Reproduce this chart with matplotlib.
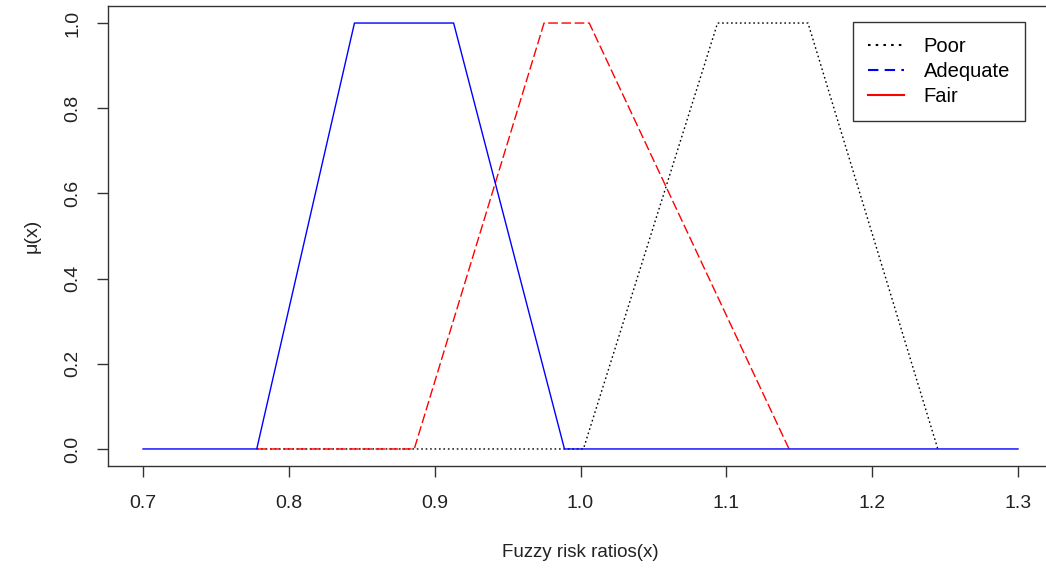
import matplotlib
matplotlib.use("Agg")
import matplotlib.pyplot as plt
from matplotlib.lines import Line2D

plt.rcParams["font.family"] = ["Liberation Sans", "DejaVu Sans"]

# membership function breakpoints
poor_x = [0.778, 1.002, 1.094, 1.156, 1.245]
poor_mu = [0.0, 0.0, 1.0, 1.0, 0.0]

adequate_x = [0.700, 0.778, 0.845, 0.913, 0.989, 1.300]
adequate_mu = [0.0, 0.0, 1.0, 1.0, 0.0, 0.0]

fair_x = [0.778, 0.886, 0.975, 1.006, 1.143]
fair_mu = [0.0, 0.0, 1.0, 1.0, 0.0]

x_ticks = [0.7, 0.8, 0.9, 1.0, 1.1, 1.2, 1.3]
y_ticks = [0.0, 0.2, 0.4, 0.6, 0.8, 1.0]
legend_labels = ["Poor", "Adequate", "Fair"]

W, H = 1046, 568
fig = plt.figure(figsize=(W / 100, H / 100), dpi=100)
ax = fig.add_axes([108 / W, (H - 466) / H, (1053 - 108) / W, (466 - 6) / H])

ax.plot(poor_x, poor_mu, color="black", lw=1.0, dashes=(1.2, 2.0))
ax.plot(fair_x, fair_mu, color="#ff0000", lw=1.0, dashes=(7, 2.5))
ax.plot(adequate_x, adequate_mu, color="#0000ff", lw=1.0)

ax.set_xlim(0.676, 1.324)
ax.set_ylim(-0.04, 1.04)
ax.set_xticks(x_ticks, [f"{t:.1f}" for t in x_ticks])
ax.set_yticks(y_ticks, [f"{t:.1f}" for t in y_ticks])
for lab in ax.get_yticklabels():
    lab.set_rotation(90)
    lab.set_va("center")

ax.tick_params(axis="both", direction="out", length=8, width=1, color="#333333",
               labelsize=14, labelcolor="#222222")
ax.tick_params(axis="x", pad=13)
ax.tick_params(axis="y", pad=11)
for sp in ax.spines.values():
    sp.set_color("#333333")
    sp.set_linewidth(1.0)

ax.set_xlabel("Fuzzy risk ratios(x)", fontsize=13.5, color="#222222", labelpad=23)
ax.set_ylabel("\u03bc(x)", fontsize=14, color="#222222", labelpad=17)

handles = [
    Line2D([], [], color="black", lw=1.5, dashes=(1.2, 2.5)),
    Line2D([], [], color="#0000ff", lw=1.5, dashes=(5, 3)),
    Line2D([], [], color="#ff0000", lw=1.5),
]
leg = ax.legend(handles, legend_labels, loc="upper right",
                bbox_to_anchor=(1025 / W, 1 - 22 / H), bbox_transform=fig.transFigure,
                fancybox=False, edgecolor="#333333", framealpha=1,
                fontsize=14.5, handlelength=1.8, handletextpad=0.95,
                borderpad=0.75, labelspacing=0.3, borderaxespad=0)
leg.get_frame().set_linewidth(1.0)

fig.savefig("out.png", dpi=100)
